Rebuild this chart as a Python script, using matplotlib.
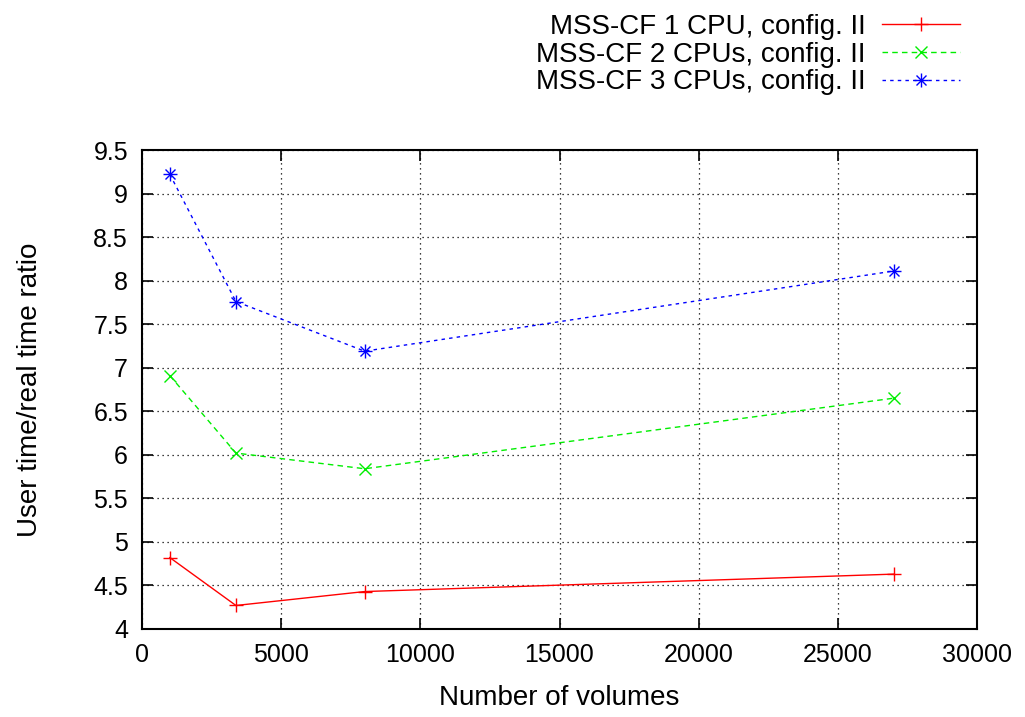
import matplotlib
matplotlib.use('Agg')
import matplotlib.pyplot as plt
import matplotlib.lines as mlines
from matplotlib.ticker import FormatStrFormatter, MultipleLocator

plt.rcParams['font.family'] = ['Liberation Sans', 'DejaVu Sans']

# number of volumes
volumes = [1000, 3375, 8000, 27000]
# user time / real time ratio
cpu1 = [4.82, 4.27, 4.43, 4.63]
cpu2 = [6.91, 6.02, 5.84, 6.65]
cpu3 = [9.22, 7.76, 7.19, 8.11]

labels = ['MSS-CF 1 CPU, config. II',
          'MSS-CF 2 CPUs, config. II',
          'MSS-CF 3 CPUs, config. II']

fig = plt.figure(figsize=(10.25, 7.17), dpi=100)
ax = fig.add_axes([142/1025, 1-629/717, (977-142)/1025, (629-150)/717])

l1, = ax.plot(volumes, cpu1, color='#ff0000', lw=1.0, ls='-', marker='+', ms=10, mew=1.0)
l2, = ax.plot(volumes, cpu2, color='#00ee00', lw=1.0, ls=(0, (4, 3)), marker='x', ms=8, mew=1.0)
l3, = ax.plot(volumes, cpu3, color='#0000ff', lw=1.0, ls=(0, (2.5, 3)), marker='+', ms=10, mew=1.0)
ax.plot(volumes, cpu3, color='#0000ff', ls='none', marker='x', ms=7, mew=1.0)

ax.set_xlim(0, 30000)
ax.set_ylim(4, 9.5)
ax.xaxis.set_major_locator(MultipleLocator(5000))
ax.yaxis.set_major_locator(MultipleLocator(0.5))
ax.yaxis.set_major_formatter(FormatStrFormatter('%g'))
ax.tick_params(axis='both', direction='in', length=8, width=1.2, labelsize=18,
               top=True, right=True, pad=10)
ax.grid(True, color='black', ls=(0, (1, 3)), lw=0.9)
for s in ax.spines.values():
    s.set_linewidth(1.5)

ax.set_xlabel('Number of volumes', fontsize=20, labelpad=13)
ax.set_ylabel('User time/real time ratio', fontsize=20, labelpad=36)

# blue asterisk = + and x overlaid
h3 = (l3, mlines.Line2D([], [], color='#0000ff', ls='none', marker='x', ms=7, mew=1.0))
fig.legend([l1, l2, h3], labels, loc='upper right', bbox_to_anchor=(960/1025, 1-14/717),
           frameon=False, markerfirst=False, fontsize=20, handlelength=2.8,
           handletextpad=0.6, labelspacing=0.06, borderaxespad=0, borderpad=0)

fig.savefig('out.png', dpi=100)
